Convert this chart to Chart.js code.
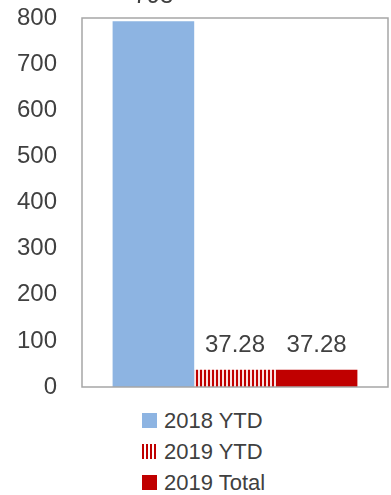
<!DOCTYPE html>
<html>
<head>
<meta charset="utf-8">
<script src="https://cdn.jsdelivr.net/npm/chart.js@4/dist/chart.umd.min.js"></script>
<style>
  html, body { margin: 0; padding: 0; background: #fff; }
  #wrap { width: 391px; height: 495px; position: relative; overflow: hidden; }
  #legend {
    list-style: none; margin: 0; padding: 5px 0 0 142px;
    font-family: "Liberation Sans", Arial, sans-serif; font-size: 22px; color: #404040;
  }
  #legend li { display: flex; align-items: center; height: 31px; }
  #legend .box { width: 15px; height: 15px; margin-right: 7px; }
</style>
</head>
<body>
<div id="wrap">
  <canvas id="c" width="391" height="400"></canvas>
  <ul id="legend"></ul>
</div>
<script>
// data
const categories = [''];
const seriesNames = ['2018 YTD', '2019 YTD', '2019 Total'];
const ytd2018 = [793];
const ytd2019 = [37.28];
const total2019 = [37.28];
const yTicks = [0, 100, 200, 300, 400, 500, 600, 700, 800];

const BLUE = '#8db4e2';
const RED = '#c00000';
const TEXT = '#404040';
const FONT = '"Liberation Sans", Arial, sans-serif';

// vertical red stripes for 2019 YTD
function stripes() {
  const p = document.createElement('canvas');
  p.width = 4; p.height = 8;
  const g = p.getContext('2d');
  g.fillStyle = '#fbe3e3';
  g.fillRect(0, 0, 4, 8);
  g.fillStyle = RED;
  g.fillRect(0, 0, 2, 8);
  return g.createPattern(p, 'repeat');
}

const swatches = [BLUE, 'repeating-linear-gradient(to right, ' + RED + ' 0 2px, #fff 2px 4px)', RED];

const frame = {
  id: 'frame',
  afterDraw(c) {
    const a = c.chartArea, ctx = c.ctx;
    ctx.save();
    ctx.strokeStyle = '#a6a6a6';
    ctx.lineWidth = 1.5;
    ctx.strokeRect(a.left, a.top, a.right - a.left, a.bottom - a.top);
    ctx.restore();
  }
};

const valueLabels = {
  id: 'valueLabels',
  afterDatasetsDraw(c) {
    const ctx = c.ctx;
    ctx.save();
    ctx.font = '24px ' + FONT;
    ctx.fillStyle = TEXT;
    ctx.textAlign = 'center';
    ctx.textBaseline = 'alphabetic';
    c.data.datasets.forEach((ds, i) => {
      c.getDatasetMeta(i).data.forEach((bar, j) => {
        ctx.fillText(String(ds.data[j]), bar.x, bar.y - 18);
      });
    });
    ctx.restore();
  }
};

const htmlLegend = {
  id: 'htmlLegend',
  afterUpdate(c) {
    const ul = document.getElementById('legend');
    while (ul.firstChild) ul.firstChild.remove();
    c.data.datasets.forEach((ds, i) => {
      const li = document.createElement('li');
      const box = document.createElement('span');
      box.className = 'box';
      box.style.background = swatches[i];
      const label = document.createElement('span');
      label.textContent = ds.label;
      li.appendChild(box);
      li.appendChild(label);
      ul.appendChild(li);
    });
  }
};

const ctx = document.getElementById('c');
const chart = new Chart(ctx, {
  type: 'bar',
  data: {
    labels: categories,
    datasets: [
      { label: seriesNames[0], data: ytd2018, backgroundColor: BLUE },
      { label: seriesNames[1], data: ytd2019, backgroundColor: stripes() },
      { label: seriesNames[2], data: total2019, backgroundColor: RED },
    ]
  },
  options: {
    responsive: false,
    animation: false,
    layout: { padding: { top: 18, right: 3, bottom: 13, left: 0 } },
    datasets: { bar: { categoryPercentage: 0.8, barPercentage: 1.0 } },
    plugins: { legend: { display: false }, tooltip: { enabled: false } },
    scales: {
      x: { display: false },
      y: {
        min: 0, max: 800,
        afterBuildTicks(s) { s.ticks = yTicks.map(v => ({ value: v })); },
        afterFit(s) { s.width = 82; s.paddingTop = 0; s.paddingBottom = 0; },
        grid: { display: false, drawTicks: false },
        border: { display: false },
        ticks: { padding: 25, color: TEXT, font: { family: FONT, size: 24 } }
      }
    }
  },
  plugins: [frame, valueLabels, htmlLegend]
});
</script>
</body>
</html>
